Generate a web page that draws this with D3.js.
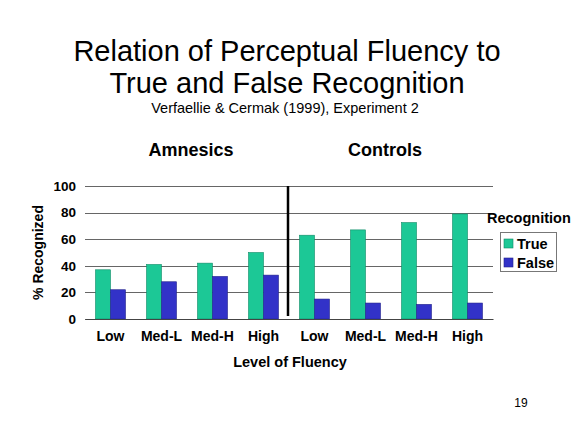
<!DOCTYPE html>
<html>
<head>
<meta charset="utf-8">
<script src="https://cdn.jsdelivr.net/npm/d3@7"></script>
<style>
  body { margin: 0; background: #fff; }
  text { font-family: "Liberation Sans", Arial, sans-serif; fill: #000; }
  .bold { font-weight: bold; }
</style>
</head>
<body>
<script>
// data
var categories = ["Low", "Med-L", "Med-H", "High", "Low ", "Med-L ", "Med-H ", "High "];
var tickLabels = ["Low", "Med-L", "Med-H", "High", "Low", "Med-L", "Med-H", "High"];
var trueValues = [37, 41, 42, 50, 63, 67, 72.5, 79];
var falseValues = [22, 28, 32, 33, 15, 12, 11, 12];
var seriesNames = ["True", "False"];
var yTicks = [0, 20, 40, 60, 80, 100];

var width = 576, height = 432;
var plot = {left: 85, right: 493, top: 186, bottom: 319};
var colors = {True: "#1cc896", False: "#3232c8"};

var svg = d3.select("body").append("svg")
    .attr("width", width)
    .attr("height", height);

// titles
svg.append("text").attr("x", 287).attr("y", 61).attr("text-anchor", "middle")
    .style("font-size", "29px").text("Relation of Perceptual Fluency to");
svg.append("text").attr("x", 287).attr("y", 93).attr("text-anchor", "middle")
    .style("font-size", "29px").text("True and False Recognition");
svg.append("text").attr("x", 285).attr("y", 113).attr("text-anchor", "middle")
    .style("font-size", "14.5px").text("Verfaellie & Cermak (1999), Experiment 2");

svg.append("text").attr("class", "bold").attr("x", 191).attr("y", 156)
    .attr("text-anchor", "middle").style("font-size", "18px").text("Amnesics");
svg.append("text").attr("class", "bold").attr("x", 385).attr("y", 156)
    .attr("text-anchor", "middle").style("font-size", "18px").text("Controls");

var x = d3.scaleBand().domain(categories).range([plot.left, plot.right]);
var xInner = d3.scaleBand().domain(seriesNames)
    .range([(x.bandwidth() - 30) / 2, (x.bandwidth() + 30) / 2]);
var y = d3.scaleLinear().domain([0, 100]).range([plot.bottom, plot.top]);

// gridlines
svg.append("g").selectAll("line").data(yTicks).enter().append("line")
    .attr("x1", plot.left).attr("x2", plot.right)
    .attr("y1", function(d) { return Math.round(y(d)) + 0.5; })
    .attr("y2", function(d) { return Math.round(y(d)) + 0.5; })
    .attr("stroke", "#666").attr("stroke-width", 1);

// y axis labels
var yAxis = d3.axisLeft(y).tickValues(yTicks).tickSize(0).tickPadding(9);
var gy = svg.append("g").attr("transform", "translate(" + plot.left + ",0)").call(yAxis);
gy.select(".domain").remove();
gy.selectAll("text").attr("class", "bold").style("font-size", "13.5px")
    .style("font-family", "'Liberation Sans', Arial, sans-serif");

// bars
var rows = categories.map(function(c, i) {
    return {cat: c, values: [{s: "True", v: trueValues[i]}, {s: "False", v: falseValues[i]}]};
});
var groups = svg.append("g").selectAll("g").data(rows).enter().append("g")
    .attr("transform", function(d) { return "translate(" + x(d.cat) + ",0)"; });
groups.selectAll("rect").data(function(d) { return d.values; }).enter().append("rect")
    .attr("x", function(d) { return xInner(d.s); })
    .attr("width", xInner.bandwidth())
    .attr("y", function(d) { return y(d.v); })
    .attr("height", function(d) { return y(0) - y(d.v); })
    .attr("fill", function(d) { return colors[d.s]; })
    .attr("stroke", function(d) { return d.s == "True" ? "#108a66" : "#22228a"; })
    .attr("stroke-width", 0.6);

// x axis
var xAxis = d3.axisBottom(x).tickSize(0).tickPadding(12)
    .tickFormat(function(d, i) { return tickLabels[i]; });
var gx = svg.append("g").attr("transform", "translate(0," + plot.bottom + ")").call(xAxis);
gx.select(".domain").attr("stroke", "#444");
gx.selectAll("text").attr("class", "bold").style("font-size", "14px")
    .style("font-family", "'Liberation Sans', Arial, sans-serif");

// separator between groups
svg.append("line")
    .attr("x1", x(categories[4]) - 1).attr("x2", x(categories[4]) - 1)
    .attr("y1", y(100)).attr("y2", y(0) - 3)
    .attr("stroke", "#000").attr("stroke-width", 2.5);

// axis titles
svg.append("text").attr("class", "bold")
    .attr("transform", "translate(43," + ((plot.top + plot.bottom) / 2) + ") rotate(-90)")
    .attr("text-anchor", "middle").style("font-size", "14px").text("% Recognized");
svg.append("text").attr("class", "bold").attr("x", 290).attr("y", 367)
    .attr("text-anchor", "middle").style("font-size", "14.5px").text("Level of Fluency");

// legend
svg.append("text").attr("class", "bold").attr("x", 487).attr("y", 223)
    .style("font-size", "14.5px").text("Recognition");
svg.append("rect").attr("x", 500.5).attr("y", 232.5).attr("width", 56).attr("height", 39)
    .attr("fill", "#fff").attr("stroke", "#777");
var leg = svg.append("g").selectAll("g").data(seriesNames).enter().append("g")
    .attr("transform", function(d, i) { return "translate(504," + (239 + i * 19) + ")"; });
leg.append("rect").attr("width", 9).attr("height", 9)
    .attr("fill", function(d) { return colors[d]; })
    .attr("stroke", function(d) { return d == "True" ? "#108a66" : "#22228a"; })
    .attr("stroke-width", 0.6);
leg.append("text").attr("class", "bold").attr("x", 13).attr("y", 10)
    .style("font-size", "14.5px").text(function(d) { return d; });

// slide number
svg.append("text").attr("x", 521).attr("y", 407).attr("text-anchor", "middle")
    .style("font-size", "12px").text("19");
</script>
</body>
</html>
